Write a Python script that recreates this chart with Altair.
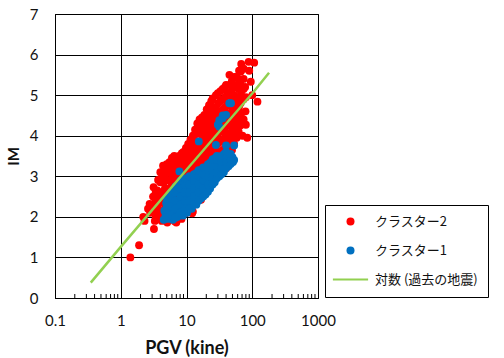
import altair as alt
import pandas as pd

# ---- data ----
red_pgv = [1.4, 1.9, 2.3, 2.2,
           2.75, 2.8, 2.6,
           3.2, 3.16, 3.1, 3.2, 3.3, 3.3, 3.5,
           3.7, 3.6, 3.8, 3.7, 3.6,
           4.4, 4.3, 4.5, 4.4, 4.5, 4.3, 4.2,
           5.1, 5.0, 5.2, 5.1, 5.0, 5.2, 5.1, 5.0,
           6.0, 6.1, 5.9, 6.0, 6.2, 6.0, 5.9, 6.1, 6.6,
           7.0, 7.1, 7.2, 7.0, 7.1, 6.9, 7.2, 7.0,
           8.5, 8.2, 8.4, 8.1, 8.3, 8.5, 8.2, 8.4,
           9.8, 10, 9.6, 9.9, 10.2, 9.7, 10, 9.9,
           11.5, 11.2, 11.7, 11.4, 11.6, 11.3, 11.8, 11.5, 12.2, 12.5,
           13.5, 13.2, 13.8, 13.4, 13.7, 13.3, 13.6, 13.8,
           15.7, 15.8, 16, 15.5, 16.2, 15.6, 16, 15.8, 16.6, 16,
           18.7, 18.3, 19, 18.5, 18.8, 18.4, 19, 18.6, 19,
           22, 21.5, 22.4, 21.8, 22.2, 21.6, 22.3, 21.9, 22.5,
           25, 25.8, 26.2, 25.5, 26, 25.4, 26.3, 25.7, 26,
           30, 30.5, 29.8, 30.6, 30.1, 29.9, 30.5, 30.2, 30,
           35.5, 35, 36, 35.2, 35.8, 35.4, 36, 35.3, 35.8,
           40, 40,
           41.7, 42, 41.2, 42.3, 41.5, 42, 41.4, 42,
           45,
           49, 48.5, 50, 49.5, 48.8, 49.4, 48.6, 49.2,
           57.5, 57, 58, 56.8, 57.6, 57.2, 58,
           63, 63,
           67, 68, 66, 67.5, 66.5, 67, 66,
           71,
           80, 84, 78, 80, 79,
           88, 95, 90,
           107, 120, 100,
           # in-between points of the dense band
           3.4, 3.4, 3.4, 3.4,
           4.0, 4.0, 4.0, 4.0, 4.0,
           4.7, 4.7, 4.7, 4.7, 4.7, 4.7,
           5.5, 5.5, 5.5, 5.5, 5.5, 5.5, 5.5,
           6.5, 6.5, 6.5, 6.5, 6.5, 6.5, 6.5, 6.5,
           7.7, 7.7, 7.7, 7.7, 7.7, 7.7, 7.7,
           9.0, 9.0, 9.0, 9.0, 9.0, 9.0, 9.0,
           10.6, 10.6, 10.6, 10.6, 10.6, 10.6, 10.6,
           12.5, 12.5, 12.5, 12.5, 12.5, 12.5, 12.5,
           14.6, 14.6, 14.6, 14.6, 14.6, 14.6, 14.6,
           17.2, 17.2, 17.2, 17.2, 17.2, 17.2, 17.2, 17.2,
           20.3, 20.3, 20.3, 20.3, 20.3, 20.3, 20.3, 20.3, 20.3,
           23.8, 23.8, 23.8, 23.8, 23.8, 23.8, 23.8, 23.8, 23.8,
           28, 28, 28, 28, 28, 28, 28, 28, 28,
           32.8, 32.8, 32.8, 32.8, 32.8, 32.8, 32.8, 32.8, 32.8,
           38.5, 38.5, 38.5, 38.5, 38.5, 38.5, 38.5, 38.5, 38.5,
           45.3, 45.3, 45.3, 45.3, 45.3, 45.3, 45.3, 45.3,
           53, 53, 53, 53, 53, 53, 53, 53,
           62, 62, 62, 62, 62, 62,
           74, 74, 74, 74, 74]
red_im = [1.0, 1.3, 1.9, 2.0,
          2.32, 2.1, 2.2,
          1.7, 2.73, 2.5, 2.3, 2.1, 1.9, 2.09,
          2.91, 2.65, 2.45, 2.2, 2.0,
          3.26, 3.05, 2.85, 2.6, 2.35, 2.1, 1.9,
          1.86, 3.3, 3.1, 2.9, 2.7, 2.5, 2.25, 2.05,
          3.45, 3.25, 3.05, 2.8, 2.6, 2.4, 2.15, 1.95, 1.89,
          1.86, 3.45, 3.25, 3.0, 2.8, 2.6, 2.35, 2.1,
          3.57, 3.35, 3.15, 2.9, 2.7, 2.45, 2.2, 1.95,
          3.7, 3.5, 3.3, 3.05, 2.85, 2.6, 2.35, 2.1,
          3.9, 3.7, 3.45, 3.2, 2.95, 2.7, 2.45, 2.2, 2.09, 2.13,
          4.15, 3.9, 3.65, 3.4, 3.15, 2.9, 2.65, 2.4,
          4.06, 4.4, 4.2, 3.8, 3.55, 3.3, 3.05, 2.8, 2.42, 2.6,
          4.51, 4.3, 4.05, 3.8, 3.55, 3.3, 3.05, 2.8, 2.6,
          4.75, 4.5, 4.25, 4.0, 3.75, 3.5, 3.25, 3.0, 2.8,
          4.92, 4.7, 4.45, 4.2, 3.95, 3.7, 3.45, 3.2, 2.95,
          5.05, 4.8, 4.55, 4.3, 4.05, 3.8, 3.55, 3.3, 3.04,
          5.15, 4.9, 4.65, 4.4, 4.15, 3.9, 3.65, 3.4, 3.15,
          5.25, 3.2,
          5.05, 4.8, 4.55, 4.3, 4.05, 3.8, 3.55, 3.35,
          5.5,
          5.35, 5.1, 4.39, 4.85, 4.6, 4.15, 3.9, 3.65,
          5.45, 5.2, 4.95, 4.7, 4.45, 4.2, 3.95,
          4.72, 5.6,
          5.58, 5.77, 5.3, 5.05, 4.8, 4.5, 4.25,
          4.0,
          4.27, 3.95, 5.2, 4.95, 4.6,
          5.82, 5.33, 5.6,
          5.8, 4.84, 5.0,
          # in-between points of the dense band
          2.6, 2.4, 2.2, 2.0,
          3.1, 2.85, 2.6, 2.35, 2.1,
          3.15, 2.95, 2.7, 2.45, 2.2, 2.0,
          3.35, 3.15, 2.9, 2.65, 2.4, 2.15, 1.95,
          3.5, 3.3, 3.1, 2.9, 2.7, 2.45, 2.2, 2.0,
          3.5, 3.3, 3.05, 2.85, 2.6, 2.35, 2.1,
          3.6, 3.45, 3.2, 2.95, 2.75, 2.5, 2.25,
          3.8, 3.6, 3.35, 3.1, 2.85, 2.6, 2.35,
          4.0, 3.8, 3.55, 3.3, 3.05, 2.8, 2.55,
          4.3, 4.05, 3.75, 3.5, 3.25, 3.0, 2.75,
          4.45, 4.15, 3.9, 3.65, 3.4, 3.15, 2.9, 2.65,
          4.65, 4.4, 4.15, 3.9, 3.65, 3.4, 3.15, 2.9, 2.7,
          4.85, 4.6, 4.35, 4.1, 3.85, 3.6, 3.35, 3.1, 2.9,
          5.0, 4.7, 4.45, 4.2, 3.95, 3.7, 3.45, 3.2, 3.0,
          5.1, 4.85, 4.6, 4.35, 4.1, 3.85, 3.6, 3.35, 3.1,
          5.2, 4.95, 4.7, 4.45, 4.2, 3.95, 3.7, 3.45, 3.25,
          5.25, 5.0, 4.75, 4.5, 4.25, 4.0, 3.75, 3.5,
          5.45, 5.25, 5.0, 4.75, 4.5, 4.25, 4.0, 3.8,
          5.4, 5.15, 4.9, 4.6, 4.35, 4.1,
          5.65, 5.4, 5.15, 4.9, 4.4]

blue_pgv = [4.5, 4.6, 4.9, 4.8,
            5.3, 5.4, 5.5, 5.3,
            6.2, 6.3, 6.4, 6.2, 6.5,
            7.3, 7.5, 7.4, 7.6, 7.8, 7.3,
            8.8, 8.6, 8.9, 8.7, 8.8,
            10.2, 10, 10.4, 10.1, 10.3,
            12, 12.2, 11.9, 12.3, 12,
            14.1, 14.3, 14, 14.4, 14.2,
            16.6, 16.4, 16.8, 16.5, 16.7, 15.4,
            19.5, 19.8, 19.3, 19.7, 19.5,
            22.9, 23.2, 22.6, 23, 23.3,
            26.9, 27.3, 26.6, 27, 27.4, 28,
            31.6, 31.2, 32, 31.5, 30, 31.6, 31.6,
            37, 37.5, 36.6, 37.2, 35.6, 35.5,
            43.6, 43, 44, 40, 40, 44.8, 47.5,
            51, 50, 53, 47, 53,
            # in-between points of the dense band
            5.0, 5.0, 5.0,
            5.8, 5.8, 5.8, 5.8,
            6.8, 6.8, 6.8, 6.8, 6.8,
            8.1, 8.1, 8.1, 8.1, 8.1,
            9.5, 9.5, 9.5, 9.5, 9.5,
            11.1, 11.1, 11.1, 11.1, 11.1,
            13, 13, 13, 13, 13,
            15.3, 15.3, 15.3, 15.3, 15.3,
            18, 18, 18, 18, 18,
            21.2, 21.2, 21.2, 21.2, 21.2,
            25, 25, 25, 25, 25,
            29, 29, 29, 29, 29,
            34, 34, 34, 34,
            40, 40, 40, 40,
            47, 47, 47]
blue_im = [1.93, 2.15, 2.34, 2.05,
           1.95, 2.15, 2.35, 2.5,
           1.93, 2.1, 2.3, 2.5, 2.6,
           2.0, 2.2, 2.4, 2.6, 3.12, 2.7,
           2.03, 2.25, 2.45, 2.65, 2.8,
           2.1, 2.3, 2.5, 2.7, 2.9,
           2.2, 2.4, 2.6, 2.8, 2.98,
           2.3, 2.5, 2.7, 2.9, 3.08,
           2.45, 2.62, 2.8, 2.98, 3.15, 3.86,
           2.55, 2.72, 2.9, 3.08, 3.22,
           2.7, 2.88, 3.05, 3.22, 3.35,
           2.85, 3.02, 3.18, 3.33, 3.45, 3.77,
           3.0, 3.15, 3.3, 3.45, 4.27, 4.22, 4.38,
           3.1, 3.25, 3.4, 3.55, 4.43, 4.5,
           3.25, 3.4, 3.52, 3.76, 4.51, 4.8, 4.8,
           3.35, 3.47, 3.76, 3.49, 3.4,
           # in-between points of the dense band
           2.0, 2.25, 2.45,
           2.05, 2.25, 2.45, 2.6,
           1.98, 2.2, 2.4, 2.6, 2.75,
           2.1, 2.3, 2.5, 2.7, 2.9,
           2.2, 2.4, 2.6, 2.8, 2.95,
           2.2, 2.4, 2.6, 2.8, 3.0,
           2.3, 2.5, 2.7, 2.9, 3.05,
           2.4, 2.6, 2.8, 3.0, 3.15,
           2.5, 2.7, 2.9, 3.05, 3.22,
           2.62, 2.8, 3.0, 3.15, 3.3,
           2.8, 2.95, 3.12, 3.28, 3.42,
           2.95, 3.1, 3.25, 3.4, 3.5,
           3.05, 3.2, 3.35, 3.5,
           3.2, 3.35, 3.5, 3.6,
           3.3, 3.42, 3.55]

fit_pgv = [0.35, 1, 10, 100, 180]
fit_im = [0.38, 1.26, 3.16, 5.04, 5.55]

x_ticks = [0.1, 1, 10, 100, 1000]
x_minor = [0.2, 0.3, 0.4, 0.5, 0.6, 0.7, 0.8, 0.9,
           2, 3, 4, 5, 6, 7, 8, 9,
           20, 30, 40, 50, 60, 70, 80, 90,
           200, 300, 400, 500, 600, 700, 800, 900]
y_ticks = [0, 1, 2, 3, 4, 5, 6, 7]

series_names = ["クラスター2", "クラスター1", "対数 (過去の地震)"]
series_colors = ["#FF0000", "#0070C0", "#92D050"]
series_shapes = ["circle", "circle", "M-4.4,-0.28H4.4V0.28H-4.4Z"]

# ---- tables ----
pts = pd.DataFrame({
    "pgv": red_pgv + blue_pgv,
    "im": red_im + blue_im,
    "series": [series_names[0]] * len(red_pgv) + [series_names[1]] * len(blue_pgv),
})
fit_df = pd.DataFrame({"pgv": fit_pgv, "im": fit_im})
minor_df = pd.DataFrame({"pgv": x_minor})

LAT = "Lato"
x_scale = alt.Scale(type="log", domain=[0.1, 1000])
y_scale = alt.Scale(domain=[0, 7], nice=False)

x_axis = alt.Axis(values=x_ticks, format="~g", title="PGV (kine)", grid=True,
                  gridColor="black", gridOpacity=1, gridWidth=1,
                  domainColor="black", domainWidth=1, ticks=False,
                  labelFlush=False, labelOverlap=False,
                  labelPadding=15, labelFont=LAT, labelFontSize=15, labelColor="#111",
                  titleFont=LAT, titleFontSize=18, titleFontWeight="bold", titleColor="#111",
                  titleX=131.5, titleY=50, titleBaseline="middle")
y_axis = alt.Axis(values=y_ticks, title="IM", grid=True,
                  gridColor="black", gridOpacity=1, gridWidth=1,
                  domainColor="black", domainWidth=1, ticks=False,
                  labelFlush=False, labelOverlap=False,
                  labelPadding=17, labelFont=LAT, labelFontSize=15, labelColor="#111",
                  titleFont=LAT, titleFontSize=15, titleFontWeight="bold", titleColor="#111",
                  titleX=-42, titleY=142, titleAngle=-90, titleBaseline="middle")

x_enc = alt.X("pgv:Q", scale=x_scale, axis=x_axis)
y_enc = alt.Y("im:Q", scale=y_scale, axis=y_axis)

legend = alt.Legend(orient="none", legendX=270, legendY=191, padding=10,
                    strokeColor="black", fillColor="white",
                    symbolSize=64, symbolOffset=9, symbolStrokeWidth=0,
                    labelOffset=18, labelFont="Noto Sans CJK JP", labelFontSize=13,
                    labelColor="#111", rowPadding=15, labelLimit=200)

minor = alt.Chart(minor_df).mark_rule(color="black", strokeWidth=1).encode(
    x=x_enc, y=alt.value(284), y2=alt.value(280))

points = alt.Chart(pts).mark_point(filled=True, size=62, opacity=1).encode(
    x=x_enc, y=y_enc,
    color=alt.Color("series:N", title=None,
                    scale=alt.Scale(domain=series_names, range=series_colors), legend=legend),
    shape=alt.Shape("series:N", title=None,
                    scale=alt.Scale(domain=series_names, range=series_shapes), legend=legend),
)

fit = alt.Chart(fit_df).mark_line(color="#92D050", strokeWidth=2.5).encode(x=x_enc, y=y_enc)

chart = alt.layer(minor, points, fit).properties(
    width=263, height=284,
    padding={"left": 55, "top": 14, "right": 186, "bottom": 60},
    autosize=alt.AutoSizeParams(type="none"),
    background="white",
).configure_view(stroke="black", strokeWidth=1)

chart.save("out.html", embed_options={"renderer": "svg", "actions": False})
